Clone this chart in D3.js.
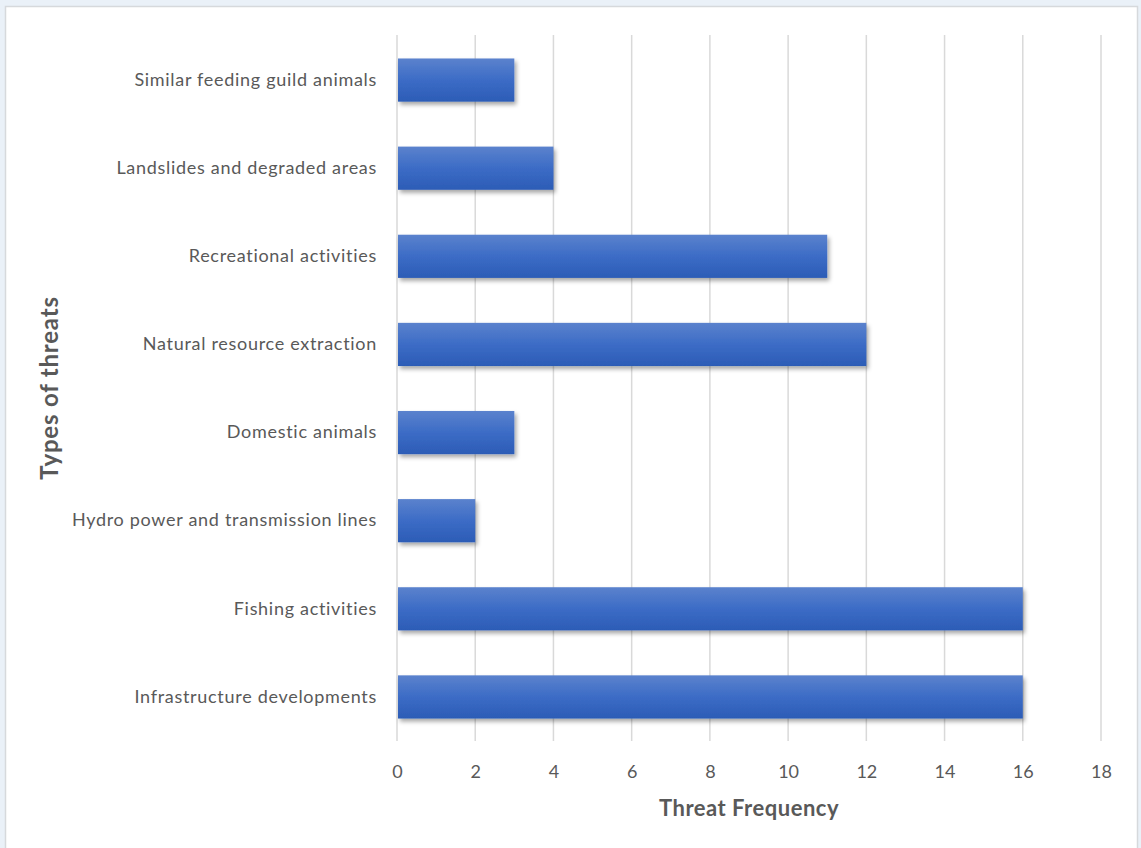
<!DOCTYPE html>
<html><head><meta charset="utf-8">
<script src="https://cdn.jsdelivr.net/npm/d3@7"></script>
<style>
html,body{margin:0;padding:0;background:#eaf1f8;}
svg{display:block;}
</style></head>
<body>
<svg id="chart" width="1141" height="848"></svg>
<script>
const categories = [
  "Infrastructure developments",
  "Fishing activities",
  "Hydro power and transmission lines",
  "Domestic animals",
  "Natural resource extraction",
  "Recreational activities",
  "Landslides and degraded areas",
  "Similar feeding guild animals"
];
const values = [16, 16, 2, 3, 12, 11, 4, 3];
const xTicks = [0, 2, 4, 6, 8, 10, 12, 14, 16, 18];
const xTitle = "Threat Frequency";
const yTitle = "Types of threats";

const svg = d3.select("#chart");
const font = "Lato, 'Open Sans', sans-serif";

// background panel
svg.append("rect").attr("x", 5.5).attr("y", 6.5).attr("width", 1132).attr("height", 850)
  .attr("fill", "#ffffff").attr("stroke", "#d6d9dc").attr("stroke-width", 1.5);

const defs = svg.append("defs");
const grad = defs.append("linearGradient").attr("id", "barGrad")
  .attr("x1", 0).attr("y1", 0).attr("x2", 0).attr("y2", 1);
grad.append("stop").attr("offset", "0%").attr("stop-color", "#5b82cd");
grad.append("stop").attr("offset", "50%").attr("stop-color", "#3c6cc6");
grad.append("stop").attr("offset", "100%").attr("stop-color", "#2c5cb6");
const filt = defs.append("filter").attr("id", "shadow")
  .attr("x", "-5%").attr("y", "-20%").attr("width", "115%").attr("height", "160%");
filt.append("feDropShadow").attr("dx", 2).attr("dy", 3).attr("stdDeviation", 2)
  .attr("flood-color", "#000").attr("flood-opacity", 0.35);

const x = d3.scaleLinear().domain([0, 18]).range([397, 1101]);
const y = d3.scaleBand().domain(categories.slice().reverse()).range([36, 741]).paddingInner(0.51).paddingOuter(0.255);

// gridlines
svg.append("g").selectAll("line").data(xTicks).join("line")
  .attr("x1", d => x(d)).attr("x2", d => x(d))
  .attr("y1", 35).attr("y2", 741)
  .attr("stroke", "#d9d9d9").attr("stroke-width", 1.5);

// bars
svg.append("g").selectAll("rect").data(categories.map((c, i) => ({c, v: values[i]}))).join("rect")
  .attr("x", x(0) + 1).attr("y", d => y(d.c))
  .attr("width", d => x(d.v) - x(0) - 1).attr("height", y.bandwidth())
  .attr("fill", "url(#barGrad)").attr("filter", "url(#shadow)");

// y axis labels
const yAxis = d3.axisLeft(y).tickSize(0).tickPadding(20);
const gy = svg.append("g").attr("transform", `translate(${x(0)},0)`).call(yAxis);
gy.select(".domain").remove();
gy.selectAll("text").attr("font-family", font).attr("font-size", 18)
  .attr("letter-spacing", "0.7px").attr("fill", "#595959");

// x axis labels
const xAxis = d3.axisBottom(x).tickValues(xTicks).tickSize(0).tickPadding(0);
const gx = svg.append("g").attr("transform", "translate(0,765)").call(xAxis);
gx.select(".domain").remove();
gx.selectAll("text").attr("font-family", font).attr("font-size", 18).attr("fill", "#595959");

// titles
svg.append("text").attr("x", 749).attr("y", 816).attr("text-anchor", "middle")
  .attr("font-family", font).attr("font-weight", "bold").attr("font-size", 22)
  .attr("letter-spacing", "0.5px").attr("fill", "#595959").text(xTitle);
svg.append("text").attr("transform", "translate(58,388) rotate(-90)").attr("text-anchor", "middle")
  .attr("font-family", font).attr("font-weight", "bold").attr("font-size", 24)
  .attr("letter-spacing", "0.8px").attr("fill", "#595959").text(yTitle);
</script>
</body></html>
